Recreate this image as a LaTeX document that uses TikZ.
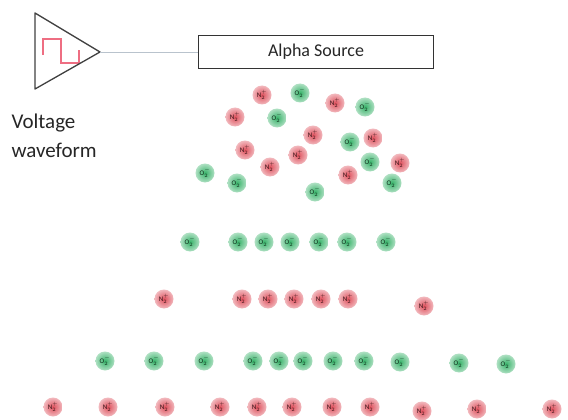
\documentclass[tikz,border=0pt]{standalone}
\usepackage{fontspec}
\setmainfont{Carlito}
\usepackage{tikz}

\definecolor{nred}{RGB}{222,80,92}
\definecolor{ogreen}{RGB}{55,178,105}
\definecolor{wire}{RGB}{185,195,205}
\definecolor{sqwave}{RGB}{238,110,130}

\tikzset{
  ion/.style={circle,minimum size=19pt,inner sep=0pt,shading=radial,font=\fontsize{7}{7}\selectfont},
  nion/.style={ion,inner color=nred,outer color=nred!40,text=nred!25!black},
  oion/.style={ion,inner color=ogreen,outer color=ogreen!40,text=ogreen!25!black},
}

\begin{document}
\begin{tikzpicture}[x=1pt,y=-1pt]
\useasboundingbox (0,0) rectangle (568,420);

% square wave inside the amplifier
\draw[draw=sqwave,line width=1.2pt] (43,55) -- (43,39) -- (61,39) -- (61,63) -- (79,63) -- (79,50);
% amplifier
\draw[line width=1.3pt,black!75,line join=round] (35,13) -- (35,89) -- (100,52) -- cycle;
\coordinate (amp) at (100,52);
\node[right,align=left,font=\fontsize{21}{29}\selectfont,text=black!85] (volt) at (8,136) {Voltage\\waveform};

% source box
\node[draw=black!80,line width=1pt,minimum width=235pt,minimum height=33pt,font=\fontsize{18}{18}\selectfont,text=black!85] (src) at (316,52) {Alpha Source};
\draw[wire,line width=0.8pt] (amp) -- (src.west);

% cloud of mixed ions
\foreach \x/\y [count=\i] in {262/95,335/103,235/117,313/135,373/138,245/150,298/155,400/163,270/167,348/175}
  \node[nion] (n\i) at (\x,\y) {N$_2^+$};
\foreach \x/\y [count=\i] in {300/93,365/107,277/118,350/142,370/162,205/173,237/183,315/192,392/183}
  \node[oion] (o\i) at (\x,\y) {O$_2^-$};

% separated rows
\foreach \x [count=\i] in {190,238,264,290,319,347,386}
  \node[oion] (a\i) at (\x,242) {O$_2^-$};
\foreach \x [count=\i] in {164,242,268,294,321,348}
  \node[nion] (b\i) at (\x,299) {N$_2^+$};
\node[nion] (b7) at (424,306) {N$_2^+$};
\foreach \x/\y [count=\i] in {105/361,154/361,204/361,253/361,279/361,303/361,333/361,364/361,400/362,459/363,506/364}
  \node[oion] (c\i) at (\x,\y) {O$_2^-$};
\foreach \x/\y [count=\i] in {53/407,108/407,165/407,220/407,257/407,292/407,332/407,370/407,422/411,477/409,552/409}
  \node[nion] (d\i) at (\x,\y) {N$_2^+$};
\end{tikzpicture}
\end{document}
